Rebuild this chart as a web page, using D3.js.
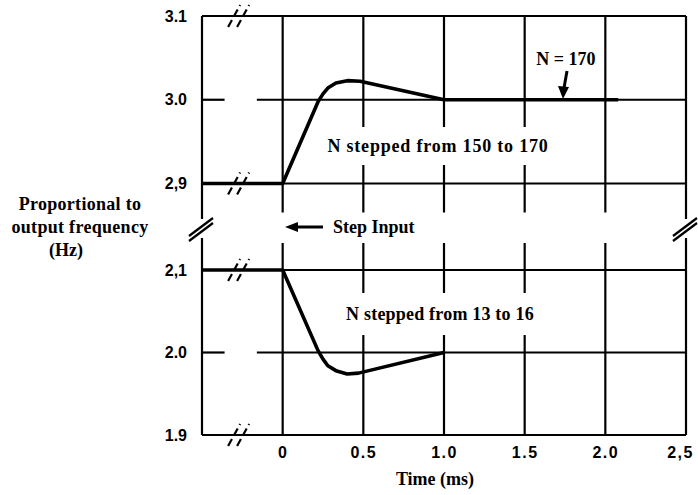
<!DOCTYPE html>
<html>
<head>
<meta charset="utf-8">
<script src="https://cdn.jsdelivr.net/npm/d3@7"></script>
<style>
  body { margin: 0; background: #fff; }
  .tick text { font-family: "Liberation Sans", Arial, sans-serif; font-weight: bold; font-size: 16px; fill: #000; }
  .lbl { font-family: "Liberation Serif", "Times New Roman", serif; font-weight: bold; font-size: 18px; fill: #000; }
</style>
</head>
<body>
<div id="chart"></div>
<script>
// tick values and labels (as printed)
var xTicks = [0, 0.5, 1.0, 1.5, 2.0, 2.5],
    xLabels = ["0", "0.5", "1.0", "1.5", "2.0", "2,5"];
var upperTicks = [2.9, 3.0, 3.1],
    upperLabels = ["2,9", "3.0", "3.1"];
var lowerTicks = [1.9, 2.0, 2.1],
    lowerLabels = ["1.9", "2.0", "2,1"];

// N stepped from 150 to 170
var upperT = [-0.5, 0, 0.22, 0.25, 0.28, 0.33, 0.40, 0.48, 1.0, 2.08],
    upperV = [2.9, 2.9, 2.998, 3.007, 3.014, 3.020, 3.0228, 3.022, 3.0, 3.0];
// N stepped from 13 to 16
var lowerT = [-0.5, 0, 0.22, 0.25, 0.28, 0.33, 0.40, 0.47, 1.0],
    lowerV = [2.1, 2.1, 2.002, 1.992, 1.984, 1.978, 1.974, 1.975, 2.0];

var W = 698, H = 495;
var svg = d3.select("#chart").append("svg")
    .attr("width", W).attr("height", H);

var x = d3.scaleLinear().domain([-0.5, 2.5]).range([202, 686]);
var yUp = d3.scaleLinear().domain([2.9, 3.1]).range([183.5, 16]);
var yLo = d3.scaleLinear().domain([1.9, 2.1]).range([435, 270]);

var grid = svg.append("g").attr("stroke", "#000").attr("stroke-width", 2.2).attr("fill", "none");

function hline(y, x0, x1) {
  grid.append("line").attr("x1", x0).attr("x2", x1).attr("y1", y).attr("y2", y);
}
function vline(xp, y0, y1) {
  grid.append("line").attr("x1", xp).attr("x2", xp).attr("y1", y0).attr("y2", y1);
}

// horizontal lines: full for the panel edges, gapped near the break for the mid lines
[[yUp, upperTicks], [yLo, lowerTicks]].forEach(function (p) {
  var y = p[0];
  p[1].forEach(function (v, i) {
    if (i === 1) {
      hline(y(v), x(-0.5), x(-0.36));
      hline(y(v), x(-0.16), x(2.5));
    } else {
      hline(y(v), x(-0.5), x(2.5));
    }
  });
});

// vertical grid lines
xTicks.slice(0, 5).forEach(function (t) {
  vline(x(t), yUp(3.1), yUp(2.9) + 29);
  vline(x(t), yLo(2.1) - 27, yLo(1.9));
});
// frame sides, broken around the axis break
[x(-0.5), x(2.5)].forEach(function (xp) {
  vline(xp, yUp(3.1), 219);
  vline(xp, 238, yLo(1.9));
  grid.append("line").attr("x1", xp - 13).attr("y1", 236).attr("x2", xp + 11).attr("y2", 218);
  grid.append("line").attr("x1", xp - 13).attr("y1", 241).attr("x2", xp + 11).attr("y2", 223);
});

// "//" break marks on the horizontal edges
var bx = x(-0.27);
[yUp(3.1), yUp(2.9), yLo(2.1), yLo(1.9)].forEach(function (y) {
  [-5, 4].forEach(function (o) {
    grid.append("line")
      .attr("x1", bx + o - 6).attr("y1", y + 11)
      .attr("x2", bx + o + 6).attr("y2", y - 11)
      .attr("stroke-dasharray", "8,4");
  });
});

// text labels with white backing so grid lines break behind them
function label(txt, xp, yp, anchor, pad, spacing) {
  var g = svg.append("g");
  var t = g.append("text").attr("class", "lbl")
    .attr("x", xp).attr("y", yp)
    .attr("text-anchor", anchor || "start")
    .style("letter-spacing", (spacing || 0) + "px")
    .text(txt);
  if (pad) {
    var b = t.node().getBBox();
    g.insert("rect", "text")
      .attr("x", b.x - pad[0]).attr("y", b.y - pad[1])
      .attr("width", b.width + 2 * pad[0]).attr("height", b.height + 2 * pad[1])
      .attr("fill", "#fff");
  }
  return g;
}

label("N stepped from 150 to 170", 438, 152, "middle", [4, 9], 0.8);
label("N stepped from 13 to 16", 440, 320, "middle", [4, 11], 0.2);

// curves
var line = d3.line().x(function (d) { return x(d[0]); });
svg.append("path")
  .datum(d3.zip(upperT, upperV))
  .attr("d", line.y(function (d) { return yUp(d[1]); }))
  .attr("fill", "none").attr("stroke", "#000").attr("stroke-width", 3.6)
  .attr("stroke-linejoin", "round");
svg.append("path")
  .datum(d3.zip(lowerT, lowerV))
  .attr("d", line.y(function (d) { return yLo(d[1]); }))
  .attr("fill", "none").attr("stroke", "#000").attr("stroke-width", 3.6)
  .attr("stroke-linejoin", "round");

// axes tick labels
svg.append("g")
  .attr("transform", "translate(0," + (yLo(1.9) + 9) + ")")
  .call(d3.axisBottom(x).tickValues(xTicks).tickSize(0)
    .tickFormat(function (d, i) { return xLabels[i]; }))
  .call(function (g) { g.select(".domain").remove(); })
  .selectAll("text").style("letter-spacing", "1.5px")
  .attr("dx", function (d, i) { return i === xTicks.length - 1 ? -6 : 0; });
svg.append("g")
  .attr("transform", "translate(" + (x(-0.5) - 12) + ",0)")
  .call(d3.axisLeft(yUp).tickValues(upperTicks).tickSize(0)
    .tickFormat(function (d, i) { return upperLabels[i]; }))
  .call(function (g) { g.select(".domain").remove(); });
svg.append("g")
  .attr("transform", "translate(" + (x(-0.5) - 12) + ",0)")
  .call(d3.axisLeft(yLo).tickValues(lowerTicks).tickSize(0)
    .tickFormat(function (d, i) { return lowerLabels[i]; }))
  .call(function (g) { g.select(".domain").remove(); });

// annotations
label("Time (ms)", 435, 485, "middle");
label("Proportional to", 80, 210, "middle", null, 0.3);
label("output frequency", 80, 233, "middle", null, 0.3);
label("(Hz)", 66, 256, "middle");
label("Step Input", 333, 233, "start");
label("N = 170", 566, 65, "middle");

// step input arrow
var arr = svg.append("g").attr("fill", "#000").attr("stroke", "#000");
arr.append("line").attr("x1", 323).attr("x2", 296).attr("y1", 227).attr("y2", 227).attr("stroke-width", 3);
arr.append("path").attr("d", "M285,227 L298,222 L298,232 Z").attr("stroke", "none");

// N = 170 arrow
arr.append("line").attr("x1", 567).attr("y1", 71).attr("x2", 564).attr("y2", 88).attr("stroke-width", 3);
arr.append("path").attr("d", "M563,99 L558,86 L569,87 Z").attr("stroke", "none");
</script>
</body>
</html>
